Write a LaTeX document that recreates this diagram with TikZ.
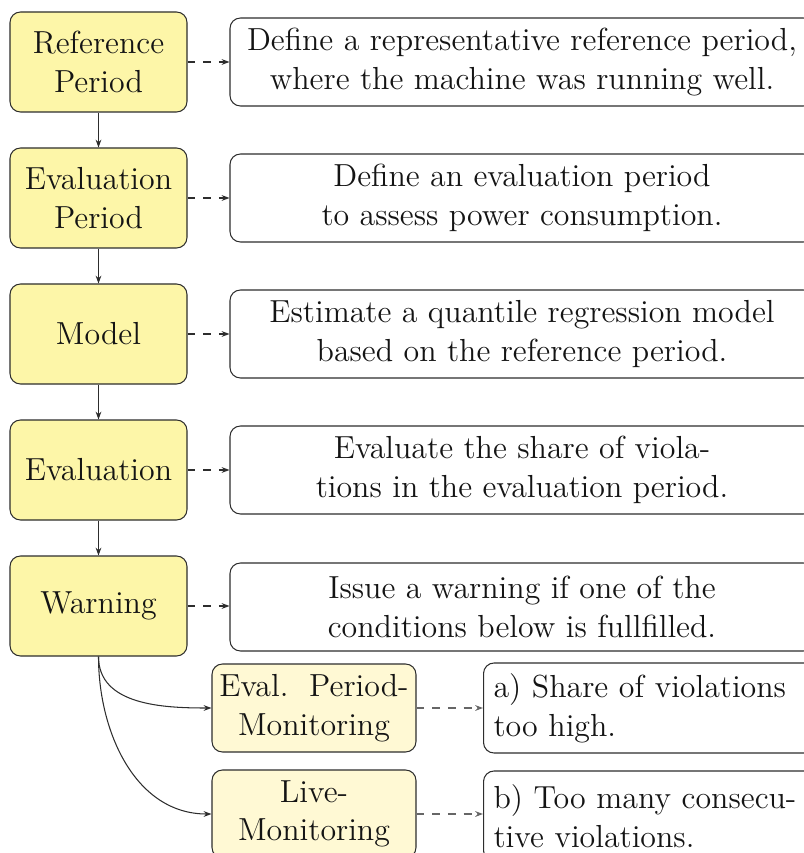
\documentclass[tikz,border=0pt]{standalone}
\usetikzlibrary{arrows.meta}
\definecolor{mainfill}{RGB}{253,246,168}
\definecolor{subfill}{RGB}{255,249,212}
\definecolor{edge}{RGB}{45,45,45}
\def\px{0.3817pt}
\tikzset{
  every node/.style={font=\fontsize{12.18}{14.75}\selectfont, text=black!92},
  mainbox/.style={draw=edge, fill=mainfill, rounded corners=4pt, align=center,
    minimum width=177*\px, minimum height=100*\px, inner sep=0pt},
  descbox/.style={draw=edge, rounded corners=4pt, align=center,
    minimum width=584*\px, minimum height=88*\px, inner sep=0pt},
  subbox/.style={draw=edge, fill=subfill, rounded corners=4pt, align=center,
    minimum width=204*\px, minimum height=88*\px, inner sep=0pt},
  condbox/.style={draw=edge, rounded corners=4pt, align=left, anchor=west,
    minimum width=340*\px, minimum height=90*\px, inner xsep=10*\px, inner ysep=0pt,
    text width=320*\px},
  flow/.style={draw=edge, -{Stealth[length=3pt,width=2.2pt]}},
  dflow/.style={draw=edge, dashed, -{Stealth[length=3pt,width=2.2pt]}},
  sdflow/.style={draw=black!60, dashed, -{Stealth[length=3pt,width=2.2pt]}},
}
\begin{document}
\begin{tikzpicture}[x=\px, y=-\px]
\useasboundingbox (0,0) rectangle (803,853);
\node[mainbox] (ref)  at (98.5,62)  {Reference\\Period};
\node[mainbox] (evp)  at (98.5,198) {Evaluation\\Period};
\node[mainbox] (mod)  at (98.5,334) {Model};
\node[mainbox] (eva)  at (98.5,470) {Evaluation};
\node[mainbox] (war)  at (98.5,606) {Warning};

\node[descbox] (dref) at (522,62)  {Define a representative reference period,\\where the machine was running well.};
\node[descbox] (devp) at (522,198) {Define an evaluation period\\to assess power consumption.};
\node[descbox] (dmod) at (522,334) {Estimate a quantile regression model\\based on the reference period.};
\node[descbox] (deva) at (522,470) {Evaluate the share of viola-\\tions in the evaluation period.};
\node[descbox] (dwar) at (522,607) {Issue a warning if one of the\\conditions below is fullfilled.};

\node[subbox] (mon1) at (314,708) {Eval.\ \ Period-\\Monitoring};
\node[subbox] (mon2) at (314,814) {Live-\\Monitoring};

\node[condbox] (c1) at (483,708) {a) Share of violations\\too high.};
\node[condbox] (c2) at (483,816) {b) Too many consecu-\\tive violations.};

\draw[flow] (ref) -- (evp);
\draw[flow] (evp) -- (mod);
\draw[flow] (mod) -- (eva);
\draw[flow] (eva) -- (war);

\draw[dflow] (ref) -- (dref);
\draw[dflow] (evp) -- (devp);
\draw[dflow] (mod) -- (dmod);
\draw[dflow] (eva) -- (deva);
\draw[dflow] (war) -- (war.east -| dwar.west);

\draw[flow] (war.south) to[out=-90, in=180] (mon1.west);
\draw[flow] (war.south) to[out=-90, in=180] (mon2.west);

\draw[sdflow] (mon1) -- (mon1.east -| c1.west);
\draw[sdflow] (mon2) -- (mon2.east -| c2.west);
\end{tikzpicture}
\end{document}
